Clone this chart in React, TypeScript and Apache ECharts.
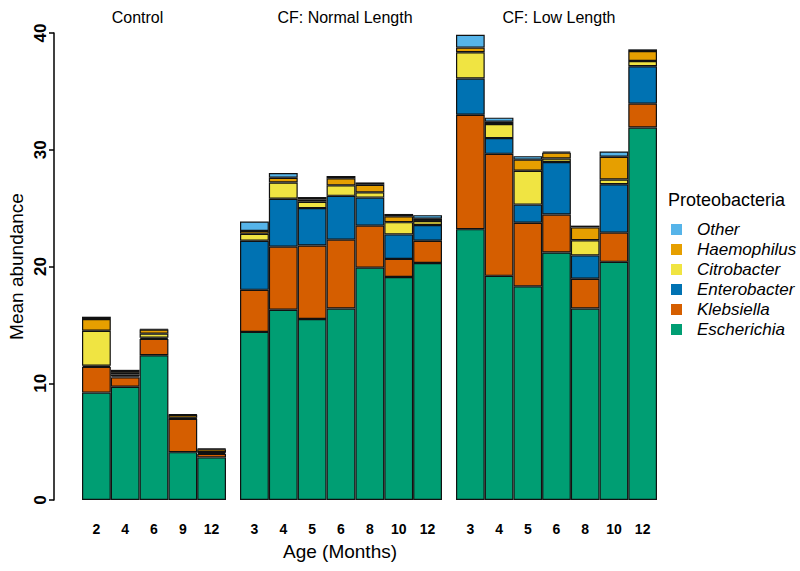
import React, { useEffect, useRef } from "react";
import * as echarts from "echarts";

const species = ["Escherichia", "Klebsiella", "Enterobacter", "Citrobacter", "Haemophilus", "Other"];
const colors = ["#009E73", "#D55E00", "#0072B2", "#F0E442", "#E69F00", "#56B4E9"];
const legendOrder = ["Other", "Haemophilus", "Citrobacter", "Enterobacter", "Klebsiella", "Escherichia"];

const panelTitles = ["Control", "CF: Normal Length", "CF: Low Length"];

const controlAges = ["2", "4", "6", "9", "12"];
const controlEscherichia = [9.2, 9.7, 12.4, 4.1, 3.65];
const controlKlebsiella = [2.2, 0.8, 1.4, 2.85, 0.3];
const controlEnterobacter = [0.1, 0.1, 0.1, 0.05, 0.1];
const controlCitrobacter = [3.0, 0.15, 0.35, 0.05, 0.05];
const controlHaemophilus = [1.0, 0.2, 0.35, 0.25, 0.25];
const controlOther = [0.2, 0.2, 0.05, 0.05, 0.05];

const normalAges = ["3", "4", "5", "6", "8", "10", "12"];
const normalEscherichia = [14.4, 16.3, 15.5, 16.4, 19.9, 19.1, 20.3];
const normalKlebsiella = [3.6, 5.4, 6.3, 5.9, 3.6, 1.55, 1.9];
const normalEnterobacter = [4.2, 4.1, 3.2, 3.75, 2.4, 2.1, 1.35];
const normalCitrobacter = [0.6, 1.4, 0.55, 0.9, 0.45, 1.05, 0.35];
const normalHaemophilus = [0.25, 0.4, 0.2, 0.6, 0.65, 0.5, 0.2];
const normalOther = [0.8, 0.4, 0.2, 0.2, 0.2, 0.2, 0.3];

const lowAges = ["3", "4", "5", "6", "8", "10", "12"];
const lowEscherichia = [23.2, 19.2, 18.3, 21.2, 16.4, 20.4, 31.9];
const lowKlebsiella = [9.8, 10.45, 5.45, 3.25, 2.55, 2.5, 2.05];
const lowEnterobacter = [3.1, 1.35, 1.55, 4.5, 2.0, 4.15, 3.2];
const lowCitrobacter = [2.25, 1.2, 2.9, 0.3, 1.3, 0.4, 0.45];
const lowHaemophilus = [0.4, 0.2, 0.95, 0.5, 1.1, 1.95, 0.85];
const lowOther = [1.1, 0.35, 0.3, 0.1, 0.15, 0.45, 0.15];

const yTicks = [0, 10, 20, 30, 40];

const FONT = "'Liberation Sans', Arial, sans-serif";

export default function App() {
  const ref = useRef<HTMLDivElement>(null);
  useEffect(() => {
    document.body.style.margin = "0";
    if (!ref.current) return;
    const chart = echarts.init(ref.current, undefined, { renderer: "svg" });

    const panels = [
      { ages: controlAges, data: [controlEscherichia, controlKlebsiella, controlEnterobacter, controlCitrobacter, controlHaemophilus, controlOther] },
      { ages: normalAges, data: [normalEscherichia, normalKlebsiella, normalEnterobacter, normalCitrobacter, normalHaemophilus, normalOther] },
      { ages: lowAges, data: [lowEscherichia, lowKlebsiella, lowEnterobacter, lowCitrobacter, lowHaemophilus, lowOther] },
    ];
    const gridPos = [
      { left: 82, width: 144 },
      { left: 240, width: 202 },
      { left: 456, width: 201 },
    ];

    const grids = gridPos.map((g) => ({ left: g.left, width: g.width, top: 33, height: 467 }));
    const xAxes = panels.map((p, i) => ({
      type: "category",
      gridIndex: i,
      data: p.ages,
      axisLine: { show: false },
      axisTick: { show: false },
      axisLabel: { fontFamily: FONT, fontWeight: "bold", fontSize: 14, color: "#000", margin: 22 },
    }));
    const yAxes = panels.map((p, i) => ({
      type: "value",
      gridIndex: i,
      min: yTicks[0],
      max: yTicks[yTicks.length - 1],
      interval: 10,
      show: i === 0,
      offset: 28,
      splitLine: { show: false },
      axisLine: { show: true, lineStyle: { color: "#000", width: 1.5 } },
      axisTick: { show: true, length: 5, lineStyle: { color: "#000", width: 1.5 } },
      axisLabel: { rotate: 90, fontFamily: FONT, fontWeight: "bold", fontSize: 17, color: "#000", margin: 5 },
      name: i === 0 ? "Mean abundance" : "",
      nameLocation: "middle",
      nameGap: 28,
      nameRotate: 90,
      nameTextStyle: { fontFamily: FONT, fontSize: 19, color: "#000" },
    }));

    const series: any[] = [];
    panels.forEach((p, pi) => {
      species.forEach((sp, si) => {
        series.push({
          type: "bar",
          name: sp,
          xAxisIndex: pi,
          yAxisIndex: pi,
          stack: "s" + pi,
          data: p.data[si],
          barCategoryGap: "0%",
          itemStyle: { color: colors[si], borderColor: "#111", borderWidth: 1.2 },
          emphasis: { disabled: true },
        });
      });
    });

    const titleX = [137.5, 345, 559];

    chart.setOption({
      animation: false,
      grid: grids,
      xAxis: xAxes,
      yAxis: yAxes,
      series,
      legend: {
        data: legendOrder,
        orient: "vertical",
        left: 666,
        top: 216,
        icon: "rect",
        itemWidth: 11,
        itemHeight: 11,
        itemGap: 3,
        itemStyle: { borderWidth: 0 },
        textStyle: { fontFamily: FONT, fontStyle: "italic", fontSize: 17, lineHeight: 17, color: "#000", padding: [0, 0, 0, 10] },
        selectedMode: false,
      },
      graphic: [
        ...panelTitles.map((t, i) => ({
          type: "text",
          x: titleX[i],
          y: 17,
          style: { text: t, font: `16px ${FONT}`, fill: "#000", textAlign: "center", textVerticalAlign: "middle" },
        })),
        {
          type: "text",
          x: 340,
          y: 551,
          style: { text: "Age (Months)", font: `19px ${FONT}`, fill: "#000", textAlign: "center", textVerticalAlign: "middle" },
        },
        {
          type: "text",
          x: 668,
          y: 200,
          style: { text: "Proteobacteria", font: `18px ${FONT}`, fill: "#000", textAlign: "left", textVerticalAlign: "middle" },
        },
      ],
    });
    return () => chart.dispose();
  }, []);
  return <div ref={ref} style={{ width: 800, height: 571 }} />;
}
